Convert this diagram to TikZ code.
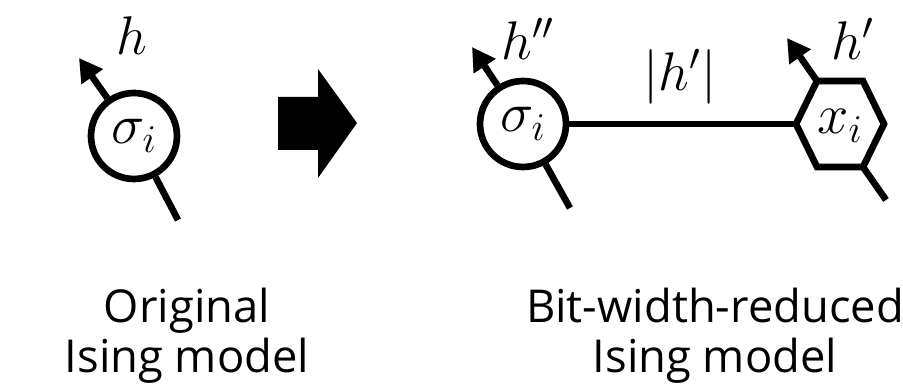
\RequirePackage{fix-cm}
\documentclass[tikz,border=0pt]{standalone}
\usepackage{amsmath,amssymb}
\usepackage{fontspec}
\setsansfont{Open Sans}
\usepackage{tikz}
\usetikzlibrary{arrows.meta,positioning,calc}

\begin{document}
\begin{tikzpicture}[
      x=0.02cm,y=0.02cm,
      spin/.style={circle,draw=black,line width=3.8pt,minimum size=1.72cm,inner sep=0pt,
        font=\fontsize{32}{36}\selectfont},
      site/.style={inner sep=0pt,font=\fontsize{32}{36}\selectfont},
      bond/.style={line width=3.8pt,draw=black},
      field/.style={line width=3.8pt,draw=black,-{Triangle[length=4.6mm,width=5mm]}},
      lbl/.style={inner sep=0pt,font=\fontsize{31}{36}\selectfont},
      caption/.style={font=\sffamily\fontsize{25.8}{28.5}\selectfont,align=center}
    ]
      \useasboundingbox (0,0) rectangle (903,384);
      % original model
      \node[spin] (s1) at (134,248) {$\sigma_i$};
      \coordinate (h1tip) at (79,326);
      \coordinate (t1end) at (178,164);
      \draw[field] (s1) -- (h1tip);
      \draw[bond] (s1) -- (t1end);
      \node[lbl] (h1) at (132,348) {$h$};
      % transformation arrow
      \coordinate (arr) at (278,261);
      \fill[black] (arr) ++(0,26) -- ++(40,0) -- ++(0,28) -- (357,261)
        -- (318,206) -- ++(0,28) -- ++(-40,0) -- cycle;
      % reduced model
      \node[spin] (s2) at (523,260) {$\sigma_i$};
      \node[site] (xi) at (840,258) {$x_i$};
      \draw[bond,line join=miter] ($(xi)+(-44,2)$) coordinate (hexL)
        -- ++(21,43) coordinate (hexTL) -- ++(46,0) -- ++(21,-43)
        -- ++(-21,-43) coordinate (hexBR) -- ++(-46,0) -- cycle;
      \draw[bond] (s2) -- (hexL);
      \coordinate (h2tip) at (472,337);
      \coordinate (t2end) at (570,176);
      \draw[field] (s2) -- (h2tip);
      \draw[bond] (s2) -- (t2end);
      \coordinate (h3tip) at (787,346);
      \coordinate (t3end) at (886,184);
      \draw[field] (hexTL) -- (h3tip);
      \draw[bond] (hexBR) -- (t3end);
      \node[lbl] (h2) at (528,345) {$h''$};
      \node[lbl] (h3) at (853,345) {$h'$};
      \node[lbl] (coup) at (680,307) {$|h'|$};
      % captions
      \node[caption] (cap1) at (187,48) {Original\\Ising model};
      \node[caption] (cap2) at (715,48) {Bit-width-reduced\\Ising model};
    \end{tikzpicture}
\end{document}
